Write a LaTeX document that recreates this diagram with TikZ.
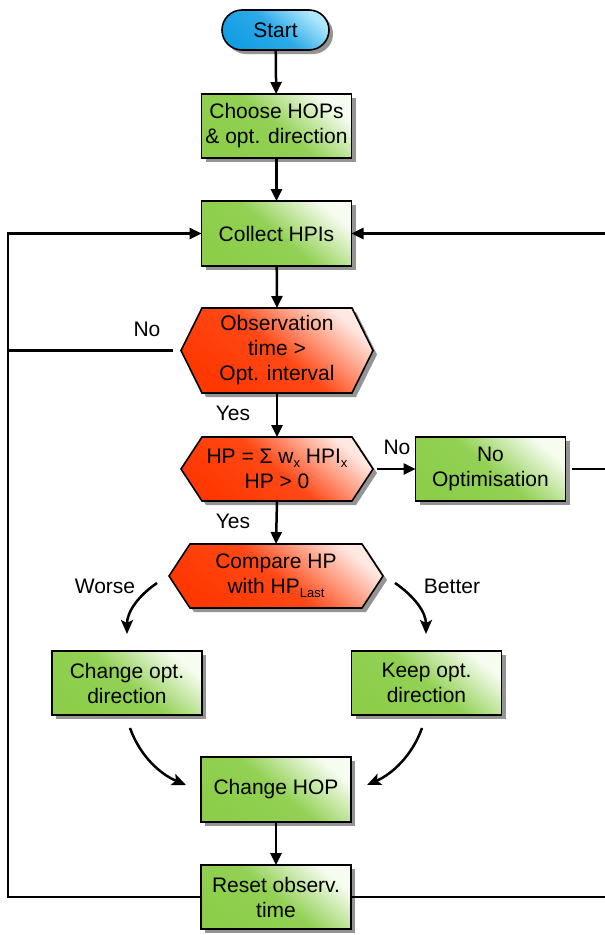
\documentclass[tikz,border=0pt]{standalone}
\usepackage{fontspec}
\setmainfont{Liberation Sans}
\usetikzlibrary{arrows.meta,shadows,backgrounds,calc}
\pgfdeclarelayer{paper}
\pgfsetlayers{paper,background,main}
\definecolor{gdark}{RGB}{140,206,74}
\definecolor{glight}{RGB}{246,252,240}
\definecolor{rdark}{RGB}{255,55,0}
\definecolor{rlight}{RGB}{255,232,225}
\definecolor{bdark}{RGB}{20,158,228}
\definecolor{blight}{RGB}{175,232,252}
\newcommand\lowsub[1]{\raisebox{-4pt}{\fontsize{13}{13}\selectfont #1}}
\newcommand\hexback[2]{%
  \coordinate (#1L) at ([xshift=-#2]#1.west);
  \coordinate (#1R) at ([xshift=#2]#1.east);
  \begin{pgfonlayer}{background}
  \path[hexfill] (#1.north west) -- (#1.north east) -- (#1R) -- (#1.south east) -- (#1.south west) -- (#1L) -- cycle;
  \end{pgfonlayer}}
\begin{document}
\begin{tikzpicture}[x=1pt,y=-1pt,
  font=\fontsize{21}{25}\selectfont,
  shadowed/.style={drop shadow={shadow xshift=4pt,shadow yshift=-4pt,fill=black!42,opacity=1}},
  greenbox/.style={rectangle, draw=black, line width=1.6pt, shadowed,
     top color=glight, bottom color=gdark, middle color=gdark!94!glight, shading angle=-40,
     minimum width=150pt, minimum height=64pt, align=center, inner sep=2pt, outer sep=0pt},
  startbox/.style={rectangle, rounded corners=20pt, draw=black, line width=1.6pt, shadowed,
     top color=blight, bottom color=bdark, middle color=bdark!85!blight, shading angle=-40,
     minimum width=107pt, minimum height=40pt, inner sep=2pt, outer sep=0pt},
  hexnode/.style={rectangle, inner sep=0pt, outer sep=0pt, align=center},
  hexfill/.style={draw=black, line width=1.6pt, shadowed,
     top color=rlight, bottom color=rdark, middle color=rdark!90!rlight, shading angle=-40},
  lbl/.style={inner sep=0pt},
  line/.style={line width=2.5pt},
  arr/.style={line width=2.5pt, -{Triangle[length=12pt,width=11pt]}},
  carr/.style={line width=2.5pt, -{Stealth[length=14pt,width=12pt,inset=3pt]}}
]
\useasboundingbox (0,0) rectangle (605,935);
\begin{pgfonlayer}{paper}
\fill[white] (0,0) rectangle (605,935);
\end{pgfonlayer}

% nodes
\node[startbox] (start) at (275.5,30) {Start};
\node[greenbox] (choose) at (276.5,126) {Choose HOPs\\\& opt. direction};
\node[greenbox, minimum height=65pt] (collect) at (276.5,233.5) {Collect HPIs};
\node[hexnode, minimum width=150pt, minimum height=85pt] (obs) at (277,350.5) {Observation\\time >\\Opt. interval};
\hexback{obs}{21pt}
\node[hexnode, minimum width=150pt, minimum height=64pt] (hp) at (277,469) {HP = Σ w\lowsub{x} HPI\lowsub{x}\\HP > 0};
\hexback{hp}{21pt}
\node[greenbox] (noopt) at (490.5,469) {No\\Optimisation};
\node[hexnode, minimum width=172pt, minimum height=64pt] (compare) at (276,576) {Compare HP\\with HP\lowsub{Last}};
\hexback{compare}{21pt}
\node[greenbox] (chdir) at (127,683) {Change opt.\\direction};
\node[greenbox] (keep) at (426.5,683) {Keep opt.\\direction};
\node[greenbox, minimum height=65pt] (chhop) at (276,789.5) {Change HOP};
\node[greenbox] (reset) at (276,897) {Reset observ.\\time};

% labels
\node[lbl] (no1) at (147,329) {No};
\node[lbl] (yes1) at (233,413) {Yes};
\node[lbl] (no2) at (397,447) {No};
\node[lbl] (yes2) at (233,521) {Yes};
\node[lbl] (worse) at (105,586) {Worse};
\node[lbl] (better) at (452,586) {Better};

% loop coordinates
\coordinate (Lt) at (8,233.5);
\coordinate (Rt) at (607,233.5);

% straight connectors
\draw[arr] (start) -- (choose);
\draw[arr] (choose) -- (collect);
\draw[arr] (collect) -- (obs.north);
\draw[arr] (obs.south) -- (hp.north);
\draw[arr] (hp.south) -- (compare.north);
\draw[arr, shorten <=4pt] (hpR) -- (noopt.west);
\draw[arr] (chhop) -- (reset);
\draw[line, shorten <=8pt] (obsL) -- (obsL -| Lt);
\draw[line, shorten <=6pt] (noopt.east) -- (noopt.east -| Rt);
\draw[arr] (reset.west) -| (Lt) -- (collect.west);
\draw[arr] (reset.east) -| (Rt) -- (collect.east);

% curved connectors
\coordinate (w1) at (157,583); \coordinate (w2) at (127,634);
\coordinate (b1) at (395,583); \coordinate (b2) at (426,634);
\coordinate (d1) at (130,728); \coordinate (d2) at (186,785);
\coordinate (k1) at (422,728); \coordinate (k2) at (367,785);
\draw[carr] (w1) .. controls (138,596) and (127,612) .. (w2);
\draw[carr] (b1) .. controls (414,596) and (426,612) .. (b2);
\draw[carr] (d1) .. controls (140,756) and (160,774) .. (d2);
\draw[carr] (k1) .. controls (412,756) and (392,774) .. (k2);
\end{tikzpicture}
\end{document}
